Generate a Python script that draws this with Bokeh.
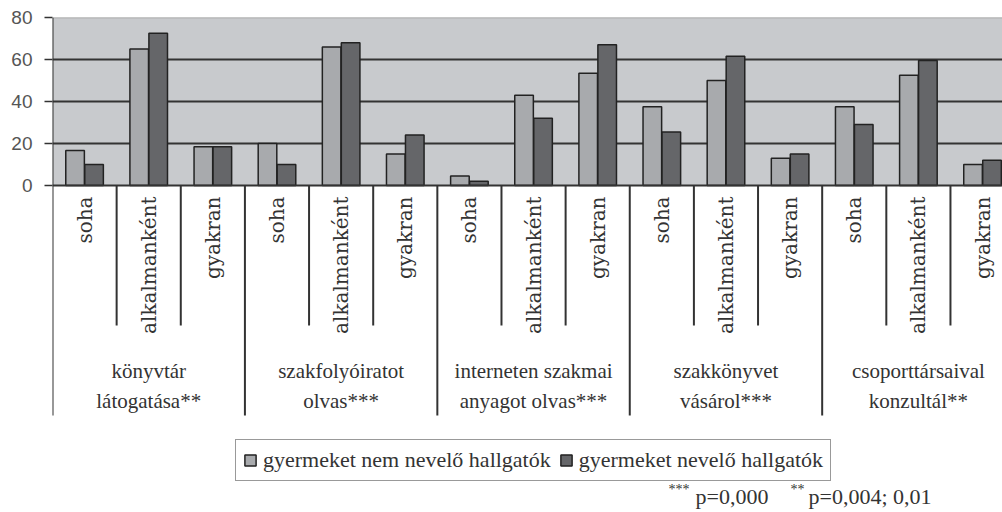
import math
from bokeh.plotting import figure
from bokeh.models import Range1d, FixedTicker, ColumnDataSource
from bokeh.core.properties import value
from bokeh.embed import file_html
from bokeh.resources import INLINE

# ---- data ----
subcats = ["soha", "alkalmanként", "gyakran"]
group_line1 = ["könyvtár", "szakfolyóiratot", "interneten szakmai", "szakkönyvet", "csoporttársaival"]
group_line2 = ["látogatása**", "olvas***", "anyagot olvas***", "vásárol***", "konzultál**"]
series_names = ["gyermeket nem nevelő hallgatók", "gyermeket nevelő hallgatók"]
not_parents = [16.7, 65, 18.5, 20, 66, 15, 4.5, 43, 53.5, 37.5, 50, 13, 37.5, 52.5, 10]
parents = [10, 72.5, 18.5, 10, 68, 24, 2, 32, 67, 25.5, 61.5, 15, 29, 59.5, 12]
y_ticks = [0, 20, 40, 60, 80]
note_parts = ["***", "p=0,000", "**", "p=0,004; 0,01"]

# ---- styles ----
BG = "#c8cacd"
LIGHT = "#a8aaad"
DARK = "#656669"
INK = "#333333"
SERIF = "Liberation Serif"
SERIF2 = "DejaVu Serif"

n_cat = len(subcats) * len(group_line1)
PX = 64.14   # px per category
UNIT = 2.1   # px per value unit
TOP = 17     # page y of value 80
ZERO = 185   # page y of value 0
HEIGHT = 512

def py(page_y):
    return -(page_y - ZERO) / UNIT

def px2x(page_x):
    return (page_x - 52) / PX

p = figure(width=1002, height=HEIGHT, x_axis_type=None,
           x_range=Range1d(0, 950 / PX), y_range=Range1d(py(HEIGHT), py(TOP)),
           output_backend="svg", toolbar_location=None,
           min_border_left=52, min_border_right=0, min_border_top=TOP, min_border_bottom=0)
p.outline_line_color = None
p.xgrid.visible = False
p.ygrid.visible = False
p.background_fill_color = "white"
p.border_fill_color = "white"

ax = p.yaxis[0]
ax.ticker = FixedTicker(ticks=y_ticks)
ax.axis_line_color = None
ax.major_tick_out = 8
ax.major_tick_in = 0
ax.minor_tick_line_color = None
ax.major_tick_line_color = INK
ax.major_tick_line_width = 1.5
ax.major_label_text_font = "Liberation Sans"
ax.major_label_text_font_size = "19px"
ax.major_label_text_color = "#555555"
ax.major_label_standoff = 12

# plot area background
p.quad(left=[0], right=[n_cat], bottom=[y_ticks[0]], top=[y_ticks[-1]],
       fill_color=BG, line_color=None)
# grid lines
inner = y_ticks[1:-1]
p.segment(x0=[0] * len(inner), x1=[n_cat] * len(inner), y0=inner, y1=inner,
          line_color=INK, line_width=2)
p.segment(x0=[0], x1=[n_cat], y0=[y_ticks[-1]], y1=[y_ticks[-1]],
          line_color="#999999", line_width=1.5)

# bars
idx = list(range(n_cat))
src = ColumnDataSource(dict(
    xl=[i + 0.5 - 0.148 for i in idx], xd=[i + 0.5 + 0.148 for i in idx],
    a=not_parents, b=parents))
p.vbar(x="xl", top="a", bottom=0, width=0.29, source=src, fill_color=LIGHT,
       line_color="#222222", line_width=1.5, legend_label=series_names[0])
p.vbar(x="xd", top="b", bottom=0, width=0.29, source=src, fill_color=DARK,
       line_color="#222222", line_width=1.5, legend_label=series_names[1])

# zero line and left border
p.segment(x0=[0], x1=[n_cat], y0=[0], y1=[0], line_color=INK, line_width=2)
table_bottom = py(415)
short_bottom = py(325)
p.segment(x0=[0], x1=[0], y0=[y_ticks[-1]], y1=[table_bottom], line_color=INK, line_width=2)

# separators
short_x = [i for i in range(1, n_cat) if i % 3 != 0]
long_x = [i for i in range(1, n_cat) if i % 3 == 0]
p.segment(x0=short_x, x1=short_x, y0=[0] * len(short_x), y1=[short_bottom] * len(short_x),
          line_color=INK, line_width=2)
p.segment(x0=long_x, x1=long_x, y0=[0] * len(long_x), y1=[table_bottom] * len(long_x),
          line_color=INK, line_width=2)

# rotated sub-category labels
p.text(x=[i + 0.5 for i in idx], y=[py(196)] * n_cat,
       text=[subcats[i % 3] for i in idx], angle=math.pi / 2,
       text_align="right", text_baseline="middle",
       text_font=value(SERIF2), text_font_size="20px", text_color=INK)

# group labels (two lines)
gx = [3 * g + 1.5 for g in range(len(group_line1))]
p.text(x=gx, y=[py(370)] * len(gx), text=group_line1,
       text_align="center", text_baseline="middle",
       text_font=value(SERIF), text_font_size="21px", text_color=INK)
p.text(x=gx, y=[py(400)] * len(gx), text=group_line2,
       text_align="center", text_baseline="middle",
       text_font=value(SERIF), text_font_size="21px", text_color=INK)

# significance note
p.text(x=[px2x(668), px2x(790)], y=[py(489)] * 2, text=[note_parts[0], note_parts[2]],
       text_align="left", text_baseline="alphabetic",
       text_font=value(SERIF), text_font_size="14px", text_color=INK)
p.text(x=[px2x(695), px2x(808)], y=[py(496)] * 2, text=[note_parts[1], note_parts[3]],
       text_align="left", text_baseline="alphabetic",
       text_font=value(SERIF), text_font_size="22px", text_color=INK)

# legend
lg = p.legend[0]
lg.location = (235 - 52, HEIGHT - 481)
lg.orientation = "horizontal"
lg.border_line_color = INK
lg.border_line_width = 1.5
lg.background_fill_color = "white"
lg.background_fill_alpha = 1
lg.glyph_width = 14
lg.glyph_height = 14
lg.label_text_font = SERIF
lg.label_text_font_size = "22px"
lg.label_text_color = INK
lg.label_standoff = 6
lg.spacing = 8
lg.padding = 7
lg.margin = 0

open("out.html", "w").write(file_html(p, INLINE))
